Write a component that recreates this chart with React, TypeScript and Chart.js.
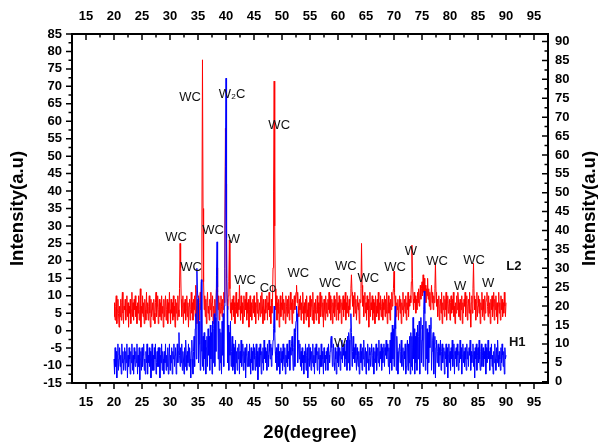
import React, { useEffect, useRef } from "react";
import { Chart, registerables } from "chart.js";
Chart.register(...registerables);

// 2θ sampling of the scans (one row = 1°)
const thetaStart = 20;
const thetaStep = 0.1;

// L2 sample (red, left axis)
const redL2 = [
  4, 8, 3, 7, 10, 2, 6, 9, 5, 1,
  7, 4, 9, 3, 8, 11, 5, 2, 7, 6,
  9, 3, 6, 10, 4, 8, 1, 7, 5, 9,
  2, 6, 11, 4, 8, 3, 9, 6, 10, 4,
  7, 2, 8, 5, 10, 3, 6, 12, 1, 7,
  5, 10, 4, 8, 2, 9, 6, 3, 11, 5,
  8, 3, 7, 10, 5, 1, 9, 4, 6, 8,
  3, 9, 5, 2, 8, 11, 4, 7, 10, 2,
  6, 9, 4, 8, 3, 10, 5, 7, 1, 9,
  4, 7, 10, 3, 6, 9, 2, 8, 5, 11,
  6, 2, 9, 5, 8, 3, 10, 4, 7, 1,
  9, 5, 8, 3, 10, 6, 4, 12, 25, 18,
  9, 4, 7, 10, 2, 8, 5, 9, 3, 6,
  10, 4, 8, 1, 7, 9, 3, 6, 11, 5,
  8, 3, 9, 6, 10, 4, 13, 7, 2, 9,
  5, 10, 3, 8, 11, 6, 14, 30, 77.6, 35,
  14, 6, 10, 4, 9, 2, 8, 11, 5, 7,
  3, 9, 6, 11, 4, 8, 10, 2, 7, 5,
  9, 4, 8, 12, 18, 11, 6, 10, 3, 8,
  5, 10, 7, 4, 9, 6, 11, 8, 30, 58,
  42, 15, 9, 6, 10, 14, 26, 12, 5, 8,
  3, 9, 6, 10, 4, 8, 2, 7, 11, 5,
  8, 4, 9, 6, 13, 7, 3, 10, 5, 8,
  2, 7, 10, 4, 9, 6, 11, 3, 8, 5,
  9, 1, 6, 10, 4, 8, 3, 7, 9, 5,
  10, 4, 8, 2, 7, 11, 5, 9, 3, 6,
  8, 4, 10, 5, 11, 7, 2, 9, 6, 3,
  9, 5, 7, 10, 3, 8, 6, 11, 4, 7,
  2, 9, 5, 8, 18, 40, 71.5, 30, 12, 6,
  10, 3, 8, 5, 9, 1, 7, 10, 4, 8,
  6, 11, 3, 9, 5, 8, 2, 10, 7, 4,
  9, 5, 10, 3, 7, 11, 6, 8, 2, 9,
  5, 8, 10, 6, 9, 11, 13, 8, 11, 7,
  4, 9, 6, 10, 3, 8, 5, 11, 7, 2,
  8, 5, 9, 3, 10, 6, 4, 8, 1, 7,
  10, 4, 7, 9, 3, 11, 6, 2, 8, 5,
  9, 3, 6, 10, 5, 8, 2, 7, 11, 4,
  7, 10, 4, 8, 1, 9, 6, 3, 10, 5,
  8, 4, 9, 6, 11, 5, 10, 3, 7, 9,
  2, 8, 5, 10, 4, 7, 9, 3, 11, 6,
  8, 3, 10, 5, 7, 9, 2, 8, 6, 10,
  4, 9, 6, 11, 3, 8, 5, 10, 7, 4,
  9, 6, 10, 12, 16, 11, 7, 10, 4, 8,
  11, 5, 9, 3, 7, 10, 6, 8, 2, 9,
  8, 12, 25, 13, 7, 10, 4, 9, 11, 5,
  8, 3, 10, 6, 9, 1, 7, 11, 4, 8,
  6, 10, 3, 9, 5, 8, 2, 10, 7, 4,
  9, 5, 11, 3, 8, 6, 10, 4, 7, 9,
  3, 8, 6, 10, 4, 9, 5, 11, 2, 7,
  10, 5, 8, 3, 9, 6, 11, 7, 10, 12,
  17, 11, 7, 10, 4, 8, 6, 9, 3, 7,
  10, 5, 9, 2, 8, 6, 11, 4, 7, 9,
  5, 10, 3, 8, 6, 11, 4, 9, 7, 10,
  8, 14, 24.5, 15, 9, 6, 11, 8, 10, 5,
  9, 6, 11, 8, 12, 7, 10, 13, 9, 12,
  14, 10, 16, 11, 15, 9, 13, 8, 12, 10,
  15, 9, 12, 7, 11, 6, 10, 13, 8, 11,
  6, 10, 8, 12, 19.5, 11, 7, 9, 4, 8,
  10, 3, 7, 9, 5, 11, 2, 8, 6, 10,
  4, 9, 6, 11, 3, 8, 10, 5, 7, 9,
  3, 8, 10, 5, 9, 6, 11, 4, 7, 2,
  8, 5, 10, 6, 11, 9, 4, 8, 3, 9,
  6, 10, 2, 8, 5, 9, 7, 11, 4, 8,
  10, 3, 7, 9, 5, 11, 6, 1, 8, 10,
  5, 12, 19.3, 10, 6, 9, 3, 8, 11, 4,
  7, 10, 5, 9, 2, 8, 6, 11, 4, 9,
  6, 3, 10, 5, 8, 9, 11, 7, 4, 10,
  5, 8, 2, 9, 6, 10, 4, 7, 11, 3,
  9, 6, 10, 4, 8, 2, 7, 11, 5, 8,
  3, 10, 6, 9, 4, 8, 5, 11, 7, 4,
  8,
];

// H1 sample (blue, right axis)
const blueH1 = [
  6, 2, 9, 4, 8, 1, 7, 10, 3, 6,
  9, 4, 7, 2, 10, 5, 8, 3, 6, 9,
  3, 8, 5, 10, 1, 7, 4, 9, 6, 2,
  8, 5, 10, 3, 7, 2, 9, 6, 4, 8,
  5, 10, 2, 7, 4, 9, 0.5, 6, 8, 3,
  9, 4, 7, 10, 3, 6, 2, 8, 5, 10,
  2, 7, 5, 9, 4, 8, 1, 6, 10, 3,
  7, 3, 9, 6, 10, 2, 5, 8, 4, 9,
  4, 9, 1, 7, 5, 10, 3, 8, 6, 2,
  8, 5, 10, 3, 7, 4, 9, 2, 6, 10,
  3, 7, 5, 9, 2, 8, 6, 10, 4, 7,
  9, 2, 6, 10, 5, 8, 13, 7, 4, 9,
  5, 10, 3, 8, 6, 2, 9, 4, 11, 7,
  3, 8, 5, 10, 4, 9, 6, 1, 8, 11,
  6, 2, 8, 12, 4, 14, 18, 6, 30, 24,
  22, 5, 10, 16, 3, 19, 27, 8, 4, 12,
  3, 13, 6, 11, 2, 9, 12, 4, 14, 7,
  12, 3, 15, 6, 13, 2, 16, 5, 14, 18,
  4, 17, 8, 28, 37, 25, 6, 16, 3, 14,
  5, 13, 2, 16, 7, 18, 4, 20, 30, 57,
  80.3, 38, 20, 5, 15, 3, 13, 7, 16, 4,
  8, 12, 3, 10, 4, 9, 2, 11, 5, 8,
  3, 9, 6, 10, 2, 8, 5, 11, 4, 7,
  10, 3, 8, 5, 9, 1, 7, 10, 4, 6,
  8, 4, 10, 6, 2, 9, 5, 8, 3, 10,
  6, 9, 3, 7, 10, 4, 8, 0.5, 6, 9,
  4, 10, 7, 2, 8, 5, 9, 3, 11, 6,
  9, 5, 8, 3, 10, 7, 4, 11, 8, 6,
  10, 4, 9, 7, 11, 14, 20, 13, 8, 5,
  9, 3, 7, 10, 4, 8, 2, 6, 9, 5,
  8, 3, 10, 6, 4, 9, 2, 7, 5, 10,
  4, 8, 6, 11, 3, 9, 7, 10, 12, 8,
  3, 9, 14, 4, 13, 16, 20, 18, 5, 9,
  11, 6, 10, 4, 8, 3, 9, 5, 7, 2,
  8, 5, 10, 3, 7, 9, 1, 6, 10, 4,
  9, 6, 3, 8, 5, 10, 4, 7, 2, 9,
  5, 10, 7, 3, 8, 6, 9, 2, 7, 4,
  10, 4, 8, 6, 2, 9, 5, 7, 3, 8,
  6, 9, 3, 10, 7, 5, 8, 11, 12, 9,
  4, 8, 10, 5, 3, 9, 6, 2, 8, 5,
  10, 4, 7, 9, 3, 8, 6, 11, 5, 9,
  7, 10, 4, 8, 6, 11, 3, 12, 5, 13,
  11, 3, 14, 18, 13, 4, 8, 12, 6, 9,
  5, 10, 7, 3, 9, 6, 4, 8, 2, 7,
  10, 5, 8, 3, 9, 6, 11, 4, 7, 9,
  2, 8, 5, 10, 6, 3, 9, 7, 4, 8,
  10, 4, 7, 9, 2, 6, 8, 5, 10, 3,
  7, 9, 5, 11, 4, 8, 6, 10, 3, 9,
  5, 8, 10, 4, 9, 7, 11, 6, 10, 8,
  4, 9, 2, 11, 5, 13, 3, 15, 6, 14,
  4, 15, 20, 14, 3, 12, 8, 2, 6, 9,
  10, 5, 8, 11, 4, 7, 9, 3, 8, 6,
  10, 2, 4, 9, 11, 3, 10, 5, 12, 2,
  13, 4, 12, 3, 17, 6, 14, 2, 12, 5,
  13, 3, 15, 6, 12, 16, 2, 14, 17, 5,
  11, 15, 4, 19, 24, 18, 3, 16, 6, 14,
  2, 13, 5, 15, 9, 14, 17, 3, 8, 11,
  13, 2, 10, 12, 1, 9, 11, 5, 8, 10,
  4, 9, 7, 11, 3, 8, 10, 5, 7, 9,
  2, 8, 6, 10, 4, 9, 1, 7, 10, 5,
  8, 3, 9, 6, 11, 4, 7, 10, 2, 8,
  6, 9, 4, 10, 7, 3, 8, 5, 11, 6,
  9, 2, 7, 10, 5, 8, 4, 9, 6, 3,
  10, 6, 8, 4, 9, 7, 11, 3, 8, 5,
  7, 10, 4, 8, 1, 9, 6, 10, 3, 7,
  9, 5, 11, 6, 3, 8, 10, 4, 7, 9,
  4, 8, 6, 10, 2, 9, 5, 7, 11, 6,
  8, 3, 9, 6, 10, 4, 7, 2, 8, 5,
  10, 6, 3, 9, 5, 11, 7, 4, 8, 6,
  3, 9, 5, 10, 7, 4, 8, 2, 9, 6,
  7,
];

// tick labels
const xTicks = [15, 20, 25, 30, 35, 40, 45, 50, 55, 60, 65, 70, 75, 80, 85, 90, 95];
const yLeftTicks = [-15, -10, -5, 0, 5, 10, 15, 20, 25, 30, 35, 40, 45, 50, 55, 60, 65, 70, 75, 80, 85];
const yRightTicks = [0, 5, 10, 15, 20, 25, 30, 35, 40, 45, 50, 55, 60, 65, 70, 75, 80, 85, 90];

// phase labels (2θ, left-axis level)
const phaseNames = ["WC", "WC", "W\u2082C", "WC", "WC", "W", "WC", "WC", "Co", "WC", "WC", "WC", "WC", "WC", "W", "WC", "W", "WC", "W", "W"];
const phaseTheta = [31.1, 33.6, 41.1, 49.5, 37.7, 41.4, 33.75, 43.4, 47.5, 52.9, 58.6, 61.4, 65.4, 70.2, 73.0, 77.7, 81.8, 84.3, 86.8, 60.4];
const phaseLevel = [26.8, 66.7, 67.8, 58.9, 28.8, 26.0, 18.2, 14.5, 12.2, 16.5, 13.4, 18.5, 15.1, 18.2, 22.8, 19.7, 12.8, 20.0, 13.4, -3.8];

const sampleNames = ["L2", "H1"];
const sampleTheta = [91.4, 92.0];
const sampleLevel = [18.5, -3.3];

const FONT = "'Liberation Sans', Arial, sans-serif";

const decor = {
  id: "decor",
  afterDatasetsDraw(chart: any) {
    const { ctx, scales } = chart;
    ctx.save();
    ctx.fillStyle = "#111";
    ctx.textAlign = "center";
    ctx.textBaseline = "middle";
    ctx.font = `13px ${FONT}`;
    phaseNames.forEach((n, i) => {
      ctx.fillText(n, scales.x.getPixelForValue(phaseTheta[i]), scales.y.getPixelForValue(phaseLevel[i]));
    });
    ctx.font = `bold 13px ${FONT}`;
    sampleNames.forEach((n, i) => {
      ctx.fillText(n, scales.x.getPixelForValue(sampleTheta[i]), scales.y.getPixelForValue(sampleLevel[i]));
    });
    ctx.restore();
  },
  afterDraw(chart: any) {
    const { ctx, chartArea: a, scales } = chart;
    ctx.save();
    ctx.strokeStyle = "#000";
    ctx.lineWidth = 2;
    ctx.strokeRect(a.left, a.top, a.right - a.left, a.bottom - a.top);
    ctx.lineWidth = 1.5;
    const major = 6, minor = 3.5;
    ctx.beginPath();
    // x ticks: bottom outward, top inward
    xTicks.forEach((v, i) => {
      const vals = [v, v - 2.5];
      if (i === xTicks.length - 1) vals.push(v + 2.5);
      vals.forEach((t, k) => {
        const px = scales.x.getPixelForValue(t);
        const L = k === 0 ? major : minor;
        if (px < a.left + 1 || px > a.right - 1) return;
        ctx.moveTo(px, a.bottom); ctx.lineTo(px, a.bottom + L);
        ctx.moveTo(px, a.top); ctx.lineTo(px, a.top + L);
      });
    });
    // left ticks outward
    yLeftTicks.forEach((v, i) => {
      const vals = [v];
      if (i > 0) vals.push(v - 2.5);
      vals.forEach((t, k) => {
        const py = scales.y.getPixelForValue(t);
        const L = k === 0 ? major : minor;
        ctx.moveTo(a.left, py); ctx.lineTo(a.left - L, py);
      });
    });
    // right ticks inward
    yRightTicks.forEach((v) => {
      [v, v + 2.5].forEach((t, k) => {
        const py = scales.y1.getPixelForValue(t);
        if (py < a.top + 1) return;
        const L = k === 0 ? major : minor;
        ctx.moveTo(a.right, py); ctx.lineTo(a.right - L, py);
      });
    });
    ctx.stroke();

    // axis titles
    ctx.fillStyle = "#000";
    ctx.font = `bold 18.5px ${FONT}`;
    ctx.textAlign = "center";
    ctx.textBaseline = "middle";
    ctx.fillText("2\u03b8(degree)", (a.left + a.right) / 2, 433);
    const cy = (a.top + a.bottom) / 2;
    ctx.save();
    ctx.translate(18, cy);
    ctx.rotate(-Math.PI / 2);
    ctx.fillText("Intensity(a.u)", 0, 0);
    ctx.restore();
    ctx.save();
    ctx.translate(590, cy);
    ctx.rotate(-Math.PI / 2);
    ctx.fillText("Intensity(a.u)", 0, 0);
    ctx.restore();
    ctx.restore();
  },
};

const tickFont = { family: FONT, size: 13, weight: "bold" as const };

export default function App() {
  const ref = useRef<HTMLCanvasElement>(null);
  useEffect(() => {
    const mk = (vals: number[]) =>
      vals.map((v, i) => ({ x: Math.round((thetaStart + i * thetaStep) * 100) / 100, y: v }));
    const setTicks = (arr: number[]) => (s: any) => {
      s.ticks = arr.map((v) => ({ value: v }));
    };
    const chart = new Chart(ref.current!, {
      type: "line",
      data: {
        datasets: [
          { label: "H1", data: mk(blueH1), yAxisID: "y1", xAxisID: "x", borderColor: "#0000ff", borderWidth: 1, pointRadius: 0, order: 0 },
          { label: "L2", data: mk(redL2), yAxisID: "y", xAxisID: "x", borderColor: "#ff0000", borderWidth: 1, pointRadius: 0, order: 1 },
        ],
      },
      options: {
        animation: false,
        responsive: false,
        maintainAspectRatio: false,
        layout: { padding: 0 },
        plugins: { legend: { display: false }, tooltip: { enabled: false } },
        scales: {
          x: {
            type: "linear", position: "bottom", min: 12.5, max: 97.5,
            afterBuildTicks: setTicks(xTicks),
            ticks: { font: tickFont, color: "#000", padding: 12, maxRotation: 0, autoSkip: false },
            grid: { display: false, drawTicks: false }, border: { display: false },
            afterFit: (s: any) => { s.height = 65; },
          },
          x2: {
            type: "linear", position: "top", min: 12.5, max: 97.5,
            afterBuildTicks: setTicks(xTicks),
            ticks: { font: tickFont, color: "#000", padding: 10, maxRotation: 0, autoSkip: false },
            grid: { display: false, drawTicks: false }, border: { display: false },
            afterFit: (s: any) => { s.height = 34; },
          },
          y: {
            type: "linear", position: "left", min: -15, max: 85,
            afterBuildTicks: setTicks(yLeftTicks),
            ticks: { font: tickFont, color: "#000", padding: 10, autoSkip: false },
            grid: { display: false, drawTicks: false }, border: { display: false },
            afterFit: (s: any) => { s.width = 72; },
          },
          y1: {
            type: "linear", position: "right", min: -0.35, max: 92,
            afterBuildTicks: setTicks(yRightTicks),
            ticks: { font: tickFont, color: "#000", padding: 7, autoSkip: false },
            grid: { display: false, drawTicks: false }, border: { display: false },
            afterFit: (s: any) => { s.width = 50; },
          },
        },
      } as any,
      plugins: [decor],
    });
    return () => chart.destroy();
  }, []);
  return (
    <div style={{ position: "fixed", left: 0, top: 0, width: 598, height: 448, background: "#fff" }}>
      <canvas ref={ref} width={598} height={448} style={{ display: "block", width: 598, height: 448 }} />
    </div>
  );
}
